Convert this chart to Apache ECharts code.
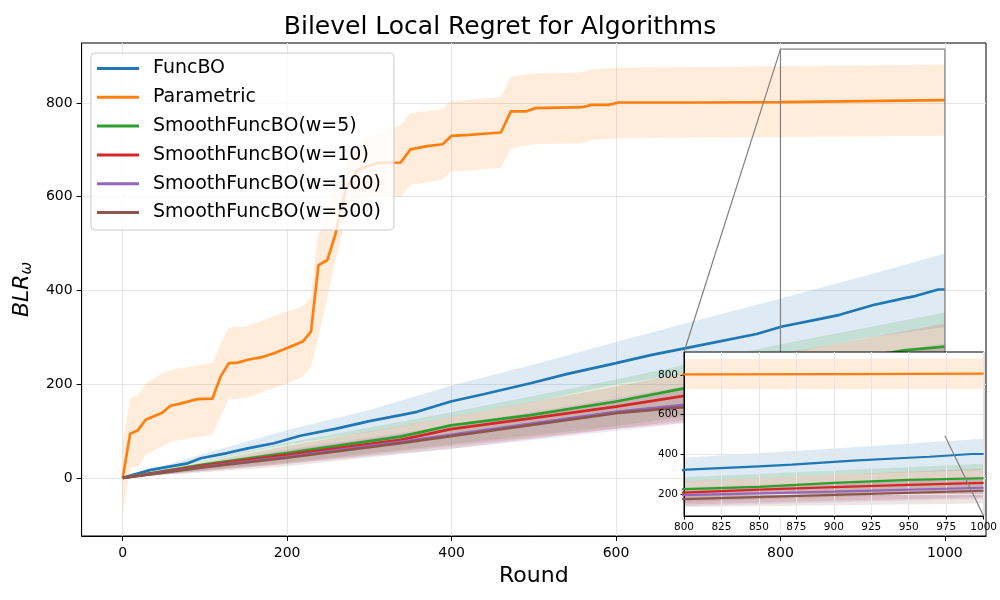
<!DOCTYPE html>
<html><head><meta charset="utf-8">
<script src="https://cdn.jsdelivr.net/npm/echarts@6/dist/echarts.min.js"></script>
<style>html,body{margin:0;padding:0;background:#fff}#c{width:1000px;height:600px}</style>
</head><body><div id="c"></div>
<script>
// ---------- data ----------
const seriesNames = ['FuncBO','Parametric','SmoothFuncBO(w=5)','SmoothFuncBO(w=10)','SmoothFuncBO(w=100)','SmoothFuncBO(w=500)'];
const colors = ['#1f77b4','#ff7f0e','#2ca02c','#d62728','#9467bd','#8c564b'];
const bandColors = ['rgba(31,119,180,0.15)','rgba(255,127,14,0.15)','rgba(44,160,44,0.15)','rgba(214,39,40,0.15)','rgba(148,103,189,0.15)','rgba(140,86,75,0.15)'];

const xTicks = [0,200,400,600,800,1000];
const yTicks = [0,200,400,600,800];
const insetYTicks = [200,400,600,800];

// FuncBO
const roundsFuncBO = [0,34,79,95,127,152,184,216,260,300,338,358,399,440,496,541,600,642,685,771,802,850,872,913,950,964,992,1000];
const funcBO       = [0,17,31,42,53,63,74,90,105,121,134,141,163,179,202,222,245,262,277,307,323,340,348,369,383,388,402,402];
const roundsFuncBOBand = [0,100,200,300,400,500,600,685,800,900,1000];
const funcBOUpper      = [0,52,102,145,197,242,290,330,383,430,479];
const funcBOLower      = [0,36,72,98,130,162,200,222,263,298,322];

// Parametric
const roundsParam = [0,9,18,28,48,58,71,91,109,119,129,140,152,168,184,200,219,229,238,249,259,271,285,310,338,350,370,389,400,421,460,472,490,502,559,570,591,603,700,800,900,1000];
const parametric  = [0,94,101,124,139,154,159,168,169,216,245,246,252,257,266,277,291,312,454,465,522,614,657,672,673,701,708,712,730,732,737,782,782,789,791,796,796,801,801,802,804,806];
const roundsParamUpper = [0,9,19,28,48,58,109,119,129,150,200,219,229,237,261,290,338,350,389,398,460,472,499,559,570,603,1000];
const paramUpper       = [76,170,177,202,223,230,245,287,321,323,355,366,387,515,636,720,753,778,787,803,813,856,863,865,872,875,882];
const roundsParamLower = [0,9,19,28,48,58,109,119,129,150,200,219,229,238,249,261,277,300,338,350,389,398,460,472,499,559,570,603,1000];
const paramLower       = [-76,21,24,49,67,77,92,131,168,170,202,216,237,300,387,480,590,600,600,625,636,653,662,703,712,714,721,725,730];

// SmoothFuncBO(w=5)
const roundsW5 = [0,100,200,338,399,496,600,683,800,850,900,950,1000];
const w5       = [0,29,53,88,112,134,163,191,225,237,257,272,280];
// SmoothFuncBO(w=10)
const roundsW10 = [0,100,200,338,399,496,600,683,800,850,900,950,1000];
const w10       = [0,27,49,81,104,127,152,175,208,223,235,247,257];
// SmoothFuncBO(w=100)
const roundsW100 = [0,100,200,338,600,683,800,900,1000];
const w100       = [0,24,45,77,141,156,195,213,232];
// SmoothFuncBO(w=500)
const roundsW500 = [0,100,200,338,600,683,800,900,1000];
const w500       = [0,23,43,74,138,151,175,196,217];

const roundsSmoothBand = [0,200,400,600,800,1000];
const w5Upper   = [0,75,140,210,285,353];
const w5Lower   = [0,33,72,110,160,209];
const w10Upper  = [0,68,130,195,265,329];
const w10Lower  = [0,30,68,105,148,185];
const w100Upper = [0,60,112,170,232,287];
const w100Lower = [0,30,62,100,140,177];
const w500Upper = [0,58,108,162,222,281];
const w500Lower = [0,25,62,105,135,153];

// ---------- chart ----------
const FONT = 'DejaVu Sans';
const lines = [
  [roundsFuncBO, funcBO],
  [roundsParam, parametric],
  [roundsW5, w5],
  [roundsW10, w10],
  [roundsW100, w100],
  [roundsW500, w500]
];
const bands = [
  [roundsFuncBOBand, funcBOUpper, roundsFuncBOBand, funcBOLower],
  [roundsParamUpper, paramUpper, roundsParamLower, paramLower],
  [roundsSmoothBand, w5Upper, roundsSmoothBand, w5Lower],
  [roundsSmoothBand, w10Upper, roundsSmoothBand, w10Lower],
  [roundsSmoothBand, w100Upper, roundsSmoothBand, w100Lower],
  [roundsSmoothBand, w500Upper, roundsSmoothBand, w500Lower]
];

function zipXY(xs, ys){ return xs.map((x,i)=>[x, ys[i]]); }
const plain = v => String(v);

function bandSeries(i, gridIdx, z){
  const [ur, up, lr, lo] = bands[i];
  return {
    type: 'custom', name: '_band' + i + '_' + gridIdx,
    xAxisIndex: gridIdx, yAxisIndex: gridIdx, z: z, silent: true,
    data: [[ur[0], up[0]]],
    renderItem: function(params, api){
      const pts = [];
      for (let k = 0; k < ur.length; k++) pts.push(api.coord([ur[k], up[k]]));
      for (let k = lr.length - 1; k >= 0; k--) pts.push(api.coord([lr[k], lo[k]]));
      const cs = params.coordSys;
      return {
        type: 'polygon', shape: { points: pts },
        style: { fill: bandColors[i], stroke: null },
        clipPath: { type: 'rect', shape: { x: cs.x, y: cs.y, width: cs.width, height: cs.height } }
      };
    }
  };
}
function lineSeries(i, gridIdx, z, w){
  return {
    type: 'line', name: gridIdx === 0 ? seriesNames[i] : '_line' + i,
    xAxisIndex: gridIdx, yAxisIndex: gridIdx, z: z,
    data: zipXY(lines[i][0], lines[i][1]),
    showSymbol: false, symbol: 'none', clip: true,
    lineStyle: { color: colors[i], width: w },
    itemStyle: { color: colors[i] },
    emphasis: { disabled: true }
  };
}

const series = [];
for (let i = 0; i < 6; i++) { series.push(bandSeries(i, 0, 1)); series.push(lineSeries(i, 0, 2, 2.7)); }
for (let i = 0; i < 6; i++) { series.push(bandSeries(i, 1, 11)); series.push(lineSeries(i, 1, 13, 2.2)); }

const gridColor = '#e6e6e6';
const option = {
  animation: false,
  backgroundColor: '#fff',
  textStyle: { fontFamily: FONT, color: '#000' },
  title: {
    text: 'Bilevel Local Regret for Algorithms', left: 'center', top: 10,
    textStyle: { fontFamily: FONT, fontSize: 25, fontWeight: 'normal', color: '#000' }
  },
  legend: {
    data: seriesNames, orient: 'vertical', left: 91, top: 53,
    icon: 'rect', itemWidth: 42, itemHeight: 3, itemGap: 9.8,
    padding: [6, 13, 8, 6],
    backgroundColor: 'rgba(255,255,255,0.8)', borderColor: '#cccccc', borderWidth: 1, borderRadius: 4,
    selectedMode: false, z: 6,
    textStyle: { fontFamily: FONT, fontSize: 19, color: '#000', lineHeight: 19, padding: [0, 0, 0, 9] }
  },
  grid: [
    { left: 80, top: 43, right: 14, bottom: 64, show: true, backgroundColor: 'transparent', borderColor: '#000', borderWidth: 1 },
    { left: 684, top: 352, width: 301, height: 164, show: true, backgroundColor: '#fff', borderColor: '#000', borderWidth: 1, z: 10 }
  ],
  xAxis: [
    {
      type: 'value', gridIndex: 0, min: -50, max: 1050,
      name: 'Round', nameLocation: 'middle', nameGap: 27,
      nameTextStyle: { fontFamily: FONT, fontSize: 22, color: '#000' },
      axisLine: { onZero: false, lineStyle: { color: '#000', width: 1 } },
      axisTick: { customValues: xTicks, length: 5, lineStyle: { color: '#000' } },
      axisLabel: { customValues: xTicks, formatter: plain, fontFamily: FONT, fontSize: 14, color: '#000', margin: 10 },
      splitLine: { show: true, lineStyle: { color: gridColor, width: 1 } }
    },
    {
      type: 'value', gridIndex: 1, min: 800, max: 1000, interval: 25, z: 12,
      axisLine: { onZero: false, lineStyle: { color: '#000', width: 1 } },
      axisTick: { length: 3.5, lineStyle: { color: '#000' } },
      axisLabel: { formatter: plain, fontFamily: FONT, fontSize: 10.5, color: '#000', margin: 6, showMinLabel: true, showMaxLabel: true },
      splitLine: { show: true, lineStyle: { color: gridColor, width: 1 } }
    }
  ],
  yAxis: [
    {
      type: 'value', gridIndex: 0, min: -124, max: 928,
      name: '{a|BLR}{b|ω}', nameLocation: 'middle', nameGap: 39, nameRotate: 90,
      nameTextStyle: {
        rich: {
          a: { fontFamily: FONT, fontSize: 22, fontStyle: 'italic', color: '#000', lineHeight: 24, verticalAlign: 'top' },
          b: { fontFamily: FONT, fontSize: 15, fontStyle: 'italic', color: '#000', lineHeight: 15, verticalAlign: 'bottom', padding: [12, 0, 0, 0] }
        }
      },
      axisLine: { show: true, onZero: false, lineStyle: { color: '#000', width: 1 } },
      axisTick: { show: true, customValues: yTicks, length: 5, lineStyle: { color: '#000' } },
      axisLabel: { customValues: yTicks, formatter: plain, fontFamily: FONT, fontSize: 14, color: '#000', margin: 9 },
      splitLine: { show: true, lineStyle: { color: gridColor, width: 1 } }
    },
    {
      type: 'value', gridIndex: 1, min: 90, max: 915, z: 12,
      axisLine: { show: true, onZero: false, lineStyle: { color: '#000', width: 1 } },
      axisTick: { show: true, customValues: insetYTicks, length: 3.5, lineStyle: { color: '#000' } },
      axisLabel: { show: false },
      splitLine: { show: true, lineStyle: { color: gridColor, width: 1 } }
    }
  ],
  series: series
};

const chart = echarts.init(document.getElementById('c'));
chart.setOption(option);

// zoom indicator (mark_inset): rectangle in main axes + connectors to inset corners
const zoomX = [800, 1000];
const zoomY = [90, 915];
const p1 = chart.convertToPixel({ gridIndex: 0 }, [zoomX[0], zoomY[1]]);
const p2 = chart.convertToPixel({ gridIndex: 0 }, [zoomX[1], zoomY[0]]);
const q1 = chart.convertToPixel({ gridIndex: 1 }, [zoomX[0], zoomY[1]]);
const q2 = chart.convertToPixel({ gridIndex: 1 }, [zoomX[1], zoomY[0]]);
const els = [
  { type: 'rect', z: 5, silent: true, shape: { x: p1[0], y: p1[1], width: p2[0] - p1[0], height: p2[1] - p1[1] },
    style: { fill: null, stroke: '#808080', lineWidth: 1.2 } },
  { type: 'line', z: 20, silent: true, shape: { x1: p1[0], y1: p1[1], x2: q1[0], y2: q1[1] },
    style: { stroke: '#808080', lineWidth: 1.2 } },
  { type: 'line', z: 20, silent: true, shape: { x1: p2[0], y1: p2[1], x2: q2[0], y2: q2[1] },
    style: { stroke: '#808080', lineWidth: 1.2 } }
];
// inset y tick labels positioned through the inset axis scale (own layer on top)
insetYTicks.forEach(v => {
  const p = chart.convertToPixel({ gridIndex: 1 }, [800, v]);
  els.push({ type: 'text', id: 'iy' + v, zlevel: 1, z: 30, silent: true, x: p[0] - 6, y: p[1],
    style: { text: String(v), fontFamily: FONT, fontSize: 10.5, fill: '#000', align: 'right', verticalAlign: 'middle' } });
});
chart.setOption({ graphic: { elements: els } });
</script></body></html>
